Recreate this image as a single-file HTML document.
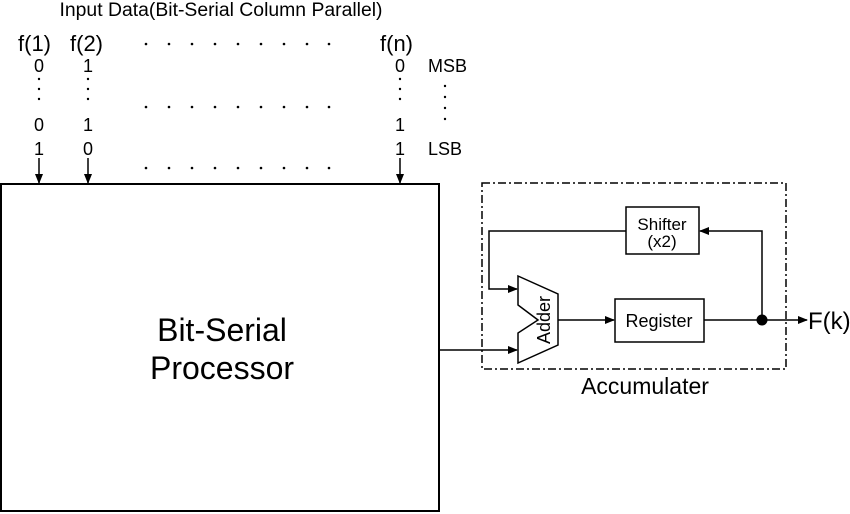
<!DOCTYPE html>
<html><head><style>
body{margin:0;background:#fff;}
svg{display:block;font-family:"Liberation Sans",sans-serif;}
</style></head><body>
<svg width="850" height="514" viewBox="0 0 850 514" xmlns="http://www.w3.org/2000/svg">
<defs><marker id="a" markerWidth="10" markerHeight="8" refX="9" refY="4" orient="auto" markerUnits="userSpaceOnUse"><path d="M0,0 L10,4 L0,8 Z" fill="#000"/></marker></defs>
<g fill="#000">
<text x="221" y="16" font-size="19" text-anchor="middle" textLength="323" lengthAdjust="spacingAndGlyphs">Input Data(Bit-Serial Column Parallel)</text>
<text x="18" y="51" font-size="22">f(1)</text>
<text x="70" y="51" font-size="22">f(2)</text>
<text x="380" y="51" font-size="22">f(n)</text>
<g>
<circle cx="146" cy="44" r="1.3"/><circle cx="169" cy="44" r="1.3"/><circle cx="192" cy="44" r="1.3"/><circle cx="215" cy="44" r="1.3"/><circle cx="238" cy="44" r="1.3"/><circle cx="261" cy="44" r="1.3"/><circle cx="284" cy="44" r="1.3"/><circle cx="307" cy="44" r="1.3"/><circle cx="329" cy="44" r="1.3"/>
<circle cx="146" cy="107" r="1.3"/><circle cx="169" cy="107" r="1.3"/><circle cx="192" cy="107" r="1.3"/><circle cx="215" cy="107" r="1.3"/><circle cx="238" cy="107" r="1.3"/><circle cx="261" cy="107" r="1.3"/><circle cx="284" cy="107" r="1.3"/><circle cx="307" cy="107" r="1.3"/><circle cx="329" cy="107" r="1.3"/>
<circle cx="146" cy="168" r="1.3"/><circle cx="169" cy="168" r="1.3"/><circle cx="192" cy="168" r="1.3"/><circle cx="215" cy="168" r="1.3"/><circle cx="238" cy="168" r="1.3"/><circle cx="261" cy="168" r="1.3"/><circle cx="284" cy="168" r="1.3"/><circle cx="307" cy="168" r="1.3"/><circle cx="329" cy="168" r="1.3"/>
</g>
<g font-size="18" text-anchor="middle">
<text x="39" y="72">0</text><text x="88" y="72">1</text><text x="400" y="72">0</text>
<text x="39" y="131">0</text><text x="88" y="131">1</text><text x="400" y="131">1</text>
<text x="39" y="155">1</text><text x="88" y="155">0</text><text x="400" y="155">1</text>
</g>
<text x="428" y="72" font-size="18">MSB</text>
<text x="428" y="155" font-size="18">LSB</text>
<g>
<circle cx="39" cy="79" r="1.2"/><circle cx="39" cy="89" r="1.2"/><circle cx="39" cy="99" r="1.2"/>
<circle cx="88" cy="79" r="1.2"/><circle cx="88" cy="89" r="1.2"/><circle cx="88" cy="99" r="1.2"/>
<circle cx="400" cy="79" r="1.2"/><circle cx="400" cy="89" r="1.2"/><circle cx="400" cy="99" r="1.2"/>
<circle cx="445" cy="86" r="1.2"/><circle cx="445" cy="97" r="1.2"/><circle cx="445" cy="108" r="1.2"/><circle cx="445" cy="119" r="1.2"/>
</g>
</g>
<g stroke="#000" stroke-width="1.5" fill="none">
<line x1="39" y1="158" x2="39" y2="183" marker-end="url(#a)"/>
<line x1="88" y1="158" x2="88" y2="183" marker-end="url(#a)"/>
<line x1="400" y1="158" x2="400" y2="183" marker-end="url(#a)"/>
<rect x="1" y="184" width="438" height="327" stroke-width="2"/>
<rect x="482" y="183" width="304" height="186" stroke-dasharray="8,3,2,3"/>
<rect x="626" y="207" width="73" height="47"/>
<rect x="615" y="299" width="89" height="43"/>
<path d="M518,276 L558,294 L558,345 L518,363 L518,333 L538,320 L518,305 Z"/>
<polyline points="626,231 489,231 489,289 517,289" marker-end="url(#a)"/>
<line x1="439" y1="350" x2="517" y2="350" marker-end="url(#a)"/>
<line x1="558" y1="320" x2="614" y2="320" marker-end="url(#a)"/>
<line x1="704" y1="320" x2="807" y2="320" marker-end="url(#a)"/>
<polyline points="762,320 762,231 700,231" marker-end="url(#a)"/>
</g>
<circle cx="762" cy="320" r="5.5" fill="#000"/>
<g fill="#000">
<text x="222" y="341" font-size="32" text-anchor="middle">Bit-Serial</text>
<text x="222" y="379" font-size="32" text-anchor="middle">Processor</text>
<text x="662" y="230" font-size="17" text-anchor="middle">Shifter</text>
<text x="662" y="247" font-size="17" text-anchor="middle">(x2)</text>
<text x="659" y="327" font-size="18" text-anchor="middle">Register</text>
<text x="0" y="0" font-size="18" text-anchor="middle" transform="translate(550,320) rotate(-90)">Adder</text>
<text x="808" y="329" font-size="24">F(k)</text>
<text x="645" y="394" font-size="23" text-anchor="middle">Accumulater</text>
</g>
</svg>
</body></html>
